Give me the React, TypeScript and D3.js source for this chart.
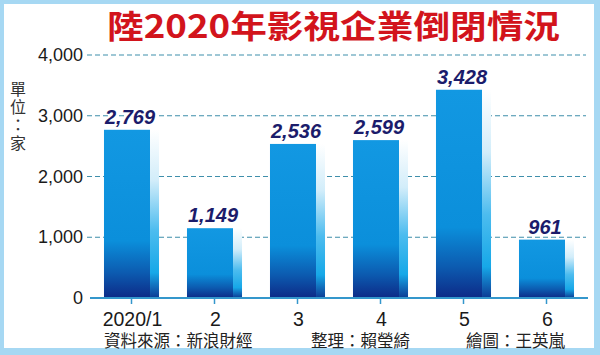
import React from "react";
import * as d3 from "d3";

const categories = ["2020/1", "2", "3", "4", "5", "6"];
const values = [2769, 1149, 2536, 2599, 3428, 961];
const yTicks = [0, 1000, 2000, 3000, 4000];
const title = "陸2020年影視企業倒閉情況";
const unitLabel = "單位：家";
const credits = ["資料來源：新浪財經", "整理：賴瑩綺", "繪圖：王英嵐"];

const W = 600;
const H = 355;
const CJK = "'Noto Sans CJK TC', 'Noto Sans', sans-serif";
const LAT = "'Liberation Sans', Arial, sans-serif";

export default function App() {
  const x = d3
    .scaleBand<string>()
    .domain(categories)
    .range([90, 588])
    .paddingInner(0.337)
    .paddingOuter(0.1685);
  const y = d3.scaleLinear().domain([0, 4000]).range([298, 55]);
  const bw = x.bandwidth();
  const side = 9;
  const fmt = d3.format(",");

  return (
    <svg
      width={W}
      height={H}
      style={{ position: "fixed", left: 0, top: 0, display: "block" }}
    >
      <defs>
        <linearGradient id="front" x1="0" y1="0" x2="0" y2="1">
          <stop offset="0" stopColor="#1298e2" />
          <stop offset="0.66" stopColor="#0b8fdb" />
          <stop offset="0.85" stopColor="#0c5bb0" />
          <stop offset="1" stopColor="#0d2a87" />
        </linearGradient>
        <linearGradient id="side" x1="0" y1="0" x2="0" y2="1">
          <stop offset="0" stopColor="#ffffff" />
          <stop offset="0.3" stopColor="#d2edfa" />
          <stop offset="0.6" stopColor="#4cbcef" />
          <stop offset="0.85" stopColor="#16a8e8" />
          <stop offset="1" stopColor="#0d3a94" />
        </linearGradient>
      </defs>
      <rect x={0} y={0} width={W} height={H} fill="#a6d8f3" />
      <rect x={4} y={4} width={W - 10} height={H - 11} fill="#ffffff" />

      <text
        x={107}
        y={38}
        fill="#d2141c"
        fontFamily={CJK}
        fontWeight={700}
        fontSize={32}
        textLength={453}
        lengthAdjust="spacingAndGlyphs"
      >
        {title}
      </text>

      <text
        x={18}
        y={81}
        fill="#333"
        fontFamily={CJK}
        fontSize={16}
        letterSpacing={2}
        style={{ writingMode: "vertical-rl" as any }}
      >
        {unitLabel}
      </text>

      {yTicks.map((t) => (
        <g key={t}>
          {t > 0 && (
            <line
              x1={87}
              x2={586}
              y1={y(t)}
              y2={y(t)}
              stroke="#3f8fab"
              strokeWidth={1.2}
              strokeDasharray="5 3"
            />
          )}
          <text
            x={83}
            y={y(t)}
            textAnchor="end"
            dominantBaseline="central"
            fill="#1a1a1a"
            fontFamily={LAT}
            fontSize={18}
          >
            {fmt(t)}
          </text>
        </g>
      ))}

      {categories.map((c, i) => {
        const x0 = x(c)!;
        const top = y(values[i]);
        const h = y(0) - top;
        return (
          <g key={c}>
            <rect x={x0} y={top} width={bw - side} height={h} fill="url(#front)" />
            <rect x={x0 + bw - side} y={top} width={side} height={h} fill="url(#side)" />
            <text
              x={x0 + (bw - side) / 2 + 3}
              y={top - 6}
              textAnchor="middle"
              fill="#1b1c6b"
              stroke="#ffffff"
              strokeWidth={3}
              paintOrder="stroke"
              fontFamily={LAT}
              fontWeight={700}
              fontStyle="italic"
              fontSize={20}
            >
              {fmt(values[i])}
            </text>
          </g>
        );
      })}

      <line x1={90} x2={588} y1={y(0)} y2={y(0)} stroke="#3497cc" strokeWidth={2} />
      {categories.map((c) => {
        const cx = x(c)! + bw / 2;
        return (
          <g key={"t" + c}>
            <line x1={cx} x2={cx} y1={y(0)} y2={y(0) + 6} stroke="#3497cc" strokeWidth={1.5} />
            <text
              x={cx + 1}
              y={326}
              textAnchor="middle"
              fill="#1a1a1a"
              fontFamily={LAT}
              fontSize={19.5}
            >
              {c}
            </text>
          </g>
        );
      })}

      <text x={104} y={347} fill="#222" fontFamily={CJK} fontSize={16.5}>
        {credits[0]}
      </text>
      <text x={311} y={347} fill="#222" fontFamily={CJK} fontSize={16.5}>
        {credits[1]}
      </text>
      <text x={466} y={347} fill="#222" fontFamily={CJK} fontSize={16.5}>
        {credits[2]}
      </text>
    </svg>
  );
}
